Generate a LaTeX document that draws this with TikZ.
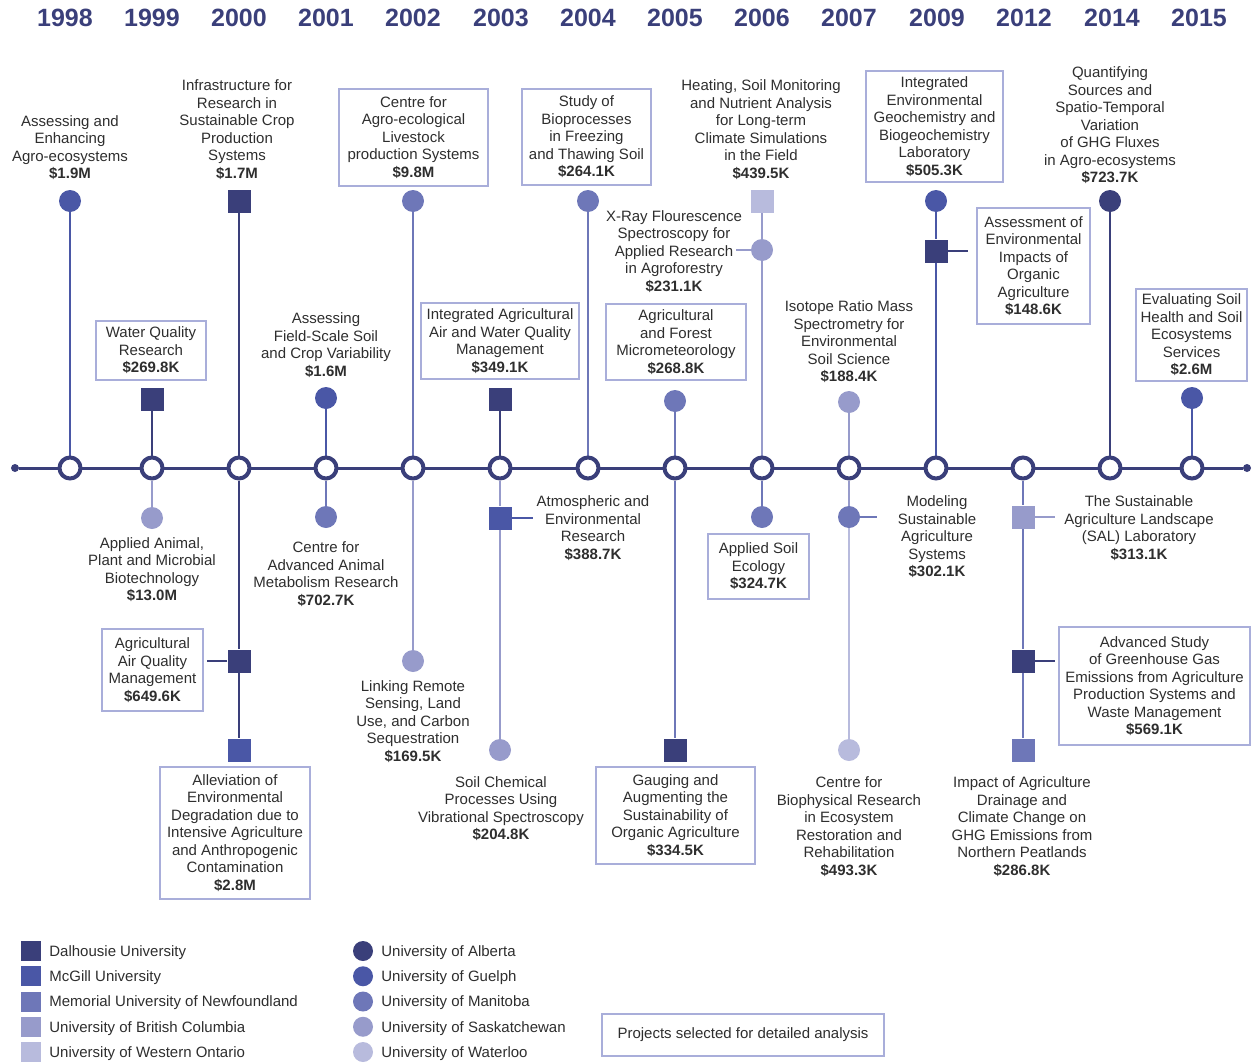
\documentclass[tikz,border=0pt]{standalone}
\usepackage{fontspec}
\setmainfont{Liberation Sans}
\usetikzlibrary{positioning,backgrounds}
\definecolor{shadeA}{HTML}{3A3F7A}
\definecolor{shadeB}{HTML}{4A57A6}
\definecolor{shadeC}{HTML}{6E77B8}
\definecolor{shadeD}{HTML}{979BCB}
\definecolor{shadeE}{HTML}{B8BBDD}
\definecolor{frame}{HTML}{A9AEDA}
\definecolor{ink}{HTML}{2E2E2E}

\begin{document}
\begin{tikzpicture}[x=1pt, y=-1pt,
    txt/.style={align=center, text=ink, font=\fontsize{15}{17.5}\selectfont, inner sep=0pt},
    lbl/.style={txt, yshift=-1.5pt},
    box/.style={txt, draw=frame, line width=1.4pt, inner sep=4pt},
    sqm/.style={rectangle, fill=#1, minimum size=23pt, inner sep=0pt},
    dotm/.style={circle, fill=#1, minimum size=22pt, inner sep=0pt},
    ring/.style={circle, draw=shadeA, fill=white, line width=4pt, minimum size=21pt, inner sep=0pt},
    spine/.style={draw=#1, line width=2pt},
    year/.style={text=shadeA, font=\fontsize{25}{25}\bfseries\selectfont, inner sep=0pt}]
    \useasboundingbox (0,0) rectangle (1254,1063);

    % years and rings on the time axis
    \foreach \yr/\xx/\tx in {1998/70/65, 1999/152/152, 2000/239/239, 2001/326/326,
        2002/413/413, 2003/500/501, 2004/588/588, 2005/675/675, 2006/762/762,
        2007/849/849, 2009/936/937, 2012/1023/1024, 2014/1110/1112, 2015/1192/1199}{
        \node[ring] (y\yr) at (\xx,468) {};
        \node[year] (t\yr) at (\tx,18) {\yr};
    }
    \node[circle, fill=shadeA, minimum size=8pt, inner sep=0pt] (axisL) at (15,468) {};
    \node[circle, fill=shadeA, minimum size=8pt, inner sep=0pt] (axisR) at (1247,468) {};

    % markers
    \node[dotm=shadeB] (m1998t) at (70,201) {};
    \node[sqm=shadeA] (m1999t) at (152,399) {};
    \node[dotm=shadeD] (m1999b) at (152,518) {};
    \node[sqm=shadeA] (m2000t) at (239,201) {};
    \node[sqm=shadeA] (m2000a) at (239,661) {};
    \node[sqm=shadeB] (m2000b) at (239,750) {};
    \node[dotm=shadeB] (m2001t) at (326,398) {};
    \node[dotm=shadeC] (m2001b) at (326,517) {};
    \node[dotm=shadeC] (m2002t) at (413,201) {};
    \node[dotm=shadeD] (m2002b) at (413,661) {};
    \node[sqm=shadeA] (m2003t) at (500,399) {};
    \node[sqm=shadeB] (m2003a) at (500,518) {};
    \node[dotm=shadeD] (m2003b) at (500,750) {};
    \node[dotm=shadeC] (m2004t) at (588,201) {};
    \node[dotm=shadeC] (m2005t) at (675,401) {};
    \node[sqm=shadeA] (m2005b) at (675,750) {};
    \node[sqm=shadeE] (m2006t) at (762,201) {};
    \node[dotm=shadeD] (m2006x) at (762,250) {};
    \node[dotm=shadeC] (m2006b) at (762,517) {};
    \node[dotm=shadeD] (m2007t) at (849,402) {};
    \node[dotm=shadeC] (m2007a) at (849,517) {};
    \node[dotm=shadeE] (m2007b) at (849,750) {};
    \node[dotm=shadeB] (m2009t) at (936,201) {};
    \node[sqm=shadeA] (m2009s) at (936,251) {};
    \node[sqm=shadeD] (m2012a) at (1023,517) {};
    \node[sqm=shadeA] (m2012b) at (1023,661) {};
    \node[sqm=shadeC] (m2012c) at (1023,750) {};
    \node[dotm=shadeA] (m2014t) at (1110,201) {};
    \node[dotm=shadeB] (m2015t) at (1192,398) {};

    % free ends of the side stubs
    \coordinate (s2000) at (207,661);
    \coordinate (s2003) at (533,518);
    \coordinate (s2006) at (736,250);
    \coordinate (s2007) at (877,517);
    \coordinate (s2009) at (968,251);
    \coordinate (s2012a) at (1055,517);
    \coordinate (s2012b) at (1055,661);

    \begin{scope}[on background layer]
        \draw[shadeA, line width=3pt] (axisL) -- (axisR);
        \draw[spine=shadeB] (m1998t) -- (y1998);
        \draw[spine=shadeA] (m1999t) -- (y1999);
        \draw[spine=shadeD] (y1999) -- (m1999b);
        \draw[spine=shadeA] (m2000t) -- (y2000) -- (m2000a) -- (m2000b);
        \draw[spine=shadeB] (m2001t) -- (y2001);
        \draw[spine=shadeC] (y2001) -- (m2001b);
        \draw[spine=shadeC] (m2002t) -- (y2002);
        \draw[spine=shadeD] (y2002) -- (m2002b);
        \draw[spine=shadeA] (m2003t) -- (y2003);
        \draw[spine=shadeD] (y2003) -- (m2003a) -- (m2003b);
        \draw[spine=shadeC] (m2004t) -- (y2004);
        \draw[spine=shadeC] (m2005t) -- (y2005);
        \draw[spine=shadeC] (y2005) -- (m2005b);
        \draw[spine=shadeD] (m2006t) -- (m2006x) -- (y2006);
        \draw[spine=shadeC] (y2006) -- (m2006b);
        \draw[spine=shadeD] (m2007t) -- (y2007);
        \draw[spine=shadeD] (y2007) -- (m2007a);
        \draw[spine=shadeE] (m2007a) -- (m2007b);
        \draw[spine=shadeB] (m2009t) -- (m2009s) -- (y2009);
        \draw[spine=shadeC] (y2012) -- (m2012a) -- (m2012b) -- (m2012c);
        \draw[spine=shadeA] (m2014t) -- (y2014);
        \draw[spine=shadeB] (m2015t) -- (y2015);
        % side stubs
        \draw[spine=shadeA] (m2000a) -- (s2000);
        \draw[spine=shadeB] (m2003a) -- (s2003);
        \draw[spine=shadeD] (m2006x) -- (s2006);
        \draw[spine=shadeC] (m2007a) -- (s2007);
        \draw[spine=shadeA] (m2009s) -- (s2009);
        \draw[spine=shadeD] (m2012a) -- (s2012a);
        \draw[spine=shadeA] (m2012b) -- (s2012b);
    \end{scope}

    % labels above the axis
    \node[lbl] (l1998t) at (70,146) {Assessing and\\Enhancing\\Agro-ecosystems\\\textbf{\$1.9M}};
    \node[lbl] (l2000t) at (237,128) {Infrastructure for\\Research in\\Sustainable Crop\\Production\\Systems\\\textbf{\$1.7M}};
    \node[box, minimum width=149pt, minimum height=97pt] (l2002t) at (413.5,137.5) {Centre for\\Agro-ecological\\Livestock\\production Systems\\\textbf{\$9.8M}};
    \node[box, minimum width=129pt, minimum height=96pt] (l2004t) at (586.5,137) {Study of\\Bioprocesses\\in Freezing\\and Thawing Soil\\\textbf{\$264.1K}};
    \node[lbl] (l2006t) at (761,128) {Heating, Soil Monitoring\\and Nutrient Analysis\\for Long-term\\Climate Simulations\\in the Field\\\textbf{\$439.5K}};
    \node[lbl] (l2006x) at (674,250) {X-Ray Flourescence\\Spectroscopy for\\Applied Research\\in Agroforestry\\\textbf{\$231.1K}};
    \node[box, minimum width=137pt, minimum height=111pt] (l2009t) at (934.5,126.5) {Integrated\\Environmental\\Geochemistry and\\Biogeochemistry\\Laboratory\\\textbf{\$505.3K}};
    \node[box, minimum width=113pt, minimum height=116pt] (l2009s) at (1033.5,266) {Assessment of\\Environmental\\Impacts of\\Organic\\Agriculture\\\textbf{\$148.6K}};
    \node[lbl] (l2014t) at (1110,124) {Quantifying\\Sources and\\Spatio-Temporal\\Variation\\of GHG Fluxes\\in Agro-ecosystems\\\textbf{\$723.7K}};
    \node[box, minimum width=110pt, minimum height=59pt] (l1999t) at (151,350.5) {Water Quality\\Research\\\textbf{\$269.8K}};
    \node[lbl] (l2001t) at (326,343.5) {Assessing\\Field-Scale Soil\\and Crop Variability\\\textbf{\$1.6M}};
    \node[box, minimum width=158pt, minimum height=76pt] (l2003t) at (500,341) {Integrated Agricultural\\Air and Water Quality\\Management\\\textbf{\$349.1K}};
    \node[box, minimum width=140pt, minimum height=76pt] (l2005t) at (676,342) {Agricultural\\and Forest\\Micrometeorology\\\textbf{\$268.8K}};
    \node[lbl] (l2007t) at (849,340.5) {Isotope Ratio Mass\\Spectrometry for\\Environmental\\Soil Science\\\textbf{\$188.4K}};
    \node[box, minimum width=111pt, minimum height=92pt] (l2015t) at (1191.5,335) {Evaluating Soil\\Health and Soil\\Ecosystems\\Services\\\textbf{\$2.6M}};

    % labels below the axis
    \node[lbl] (l1999b) at (152,568) {Applied Animal,\\Plant and Microbial\\Biotechnology\\\textbf{\$13.0M}};
    \node[lbl] (l2001b) at (326,572.5) {Centre for\\Advanced Animal\\Metabolism Research\\\textbf{\$702.7K}};
    \node[lbl] (l2003a) at (593,526.5) {Atmospheric and\\Environmental\\Research\\\textbf{\$388.7K}};
    \node[box, minimum width=101pt, minimum height=65pt] (l2006b) at (758.5,566.5) {Applied Soil\\Ecology\\\textbf{\$324.7K}};
    \node[lbl] (l2007a) at (937,535.5) {Modeling\\Sustainable\\Agriculture\\Systems\\\textbf{\$302.1K}};
    \node[lbl] (l2012a) at (1139,526.5) {The Sustainable\\Agriculture Landscape\\(SAL) Laboratory\\\textbf{\$313.1K}};
    \node[box, minimum width=101pt, minimum height=82pt] (l2000a) at (152.5,670) {Agricultural\\Air Quality\\Management\\\textbf{\$649.6K}};
    \node[lbl] (l2002b) at (413,720) {Linking Remote\\Sensing, Land\\Use, and Carbon\\Sequestration\\\textbf{\$169.5K}};
    \node[box, minimum width=191pt, minimum height=118pt] (l2012b) at (1154.5,686) {Advanced Study\\of Greenhouse Gas\\Emissions from Agriculture\\Production Systems and\\Waste Management\\\textbf{\$569.1K}};
    \node[box, minimum width=150pt, minimum height=132pt] (l2000b) at (235,833) {Alleviation of\\Environmental\\Degradation due to\\Intensive Agriculture\\and Anthropogenic\\Contamination\\\textbf{\$2.8M}};
    \node[lbl] (l2003b) at (501,807) {Soil Chemical\\Processes Using\\Vibrational Spectroscopy\\\textbf{\$204.8K}};
    \node[box, minimum width=159pt, minimum height=97pt] (l2005b) at (675.5,815.5) {Gauging and\\Augmenting the\\Sustainability of\\Organic Agriculture\\\textbf{\$334.5K}};
    \node[lbl] (l2007b) at (849,825) {Centre for\\Biophysical Research\\in Ecosystem\\Restoration and\\Rehabilitation\\\textbf{\$493.3K}};
    \node[lbl] (l2012c) at (1022,825) {Impact of Agriculture\\Drainage and\\Climate Change on\\GHG Emissions from\\Northern Peatlands\\\textbf{\$286.8K}};

    % legend
    \foreach \c/\name [count=\i] in {shadeA/Dalhousie University, shadeB/McGill University,
        shadeC/Memorial University of Newfoundland, shadeD/University of British Columbia,
        shadeE/University of Western Ontario}{
        \node[sqm=\c, minimum size=20pt] (ks\i) at (31,{951+25.25*(\i-1)}) {};
        \node[lbl, right=8pt of ks\i] (kt\i) {\name};
    }
    \foreach \c/\name [count=\i] in {shadeA/University of Alberta, shadeB/University of Guelph,
        shadeC/University of Manitoba, shadeD/University of Saskatchewan,
        shadeE/University of Waterloo}{
        \node[dotm=\c, minimum size=20pt] (kc\i) at (363,{951+25.25*(\i-1)}) {};
        \node[lbl, right=8pt of kc\i] (ku\i) {\name};
    }
    \node[box, minimum width=282pt, minimum height=42pt] (sel) at (743,1035) {Projects selected for detailed analysis};
\end{tikzpicture}
\end{document}
